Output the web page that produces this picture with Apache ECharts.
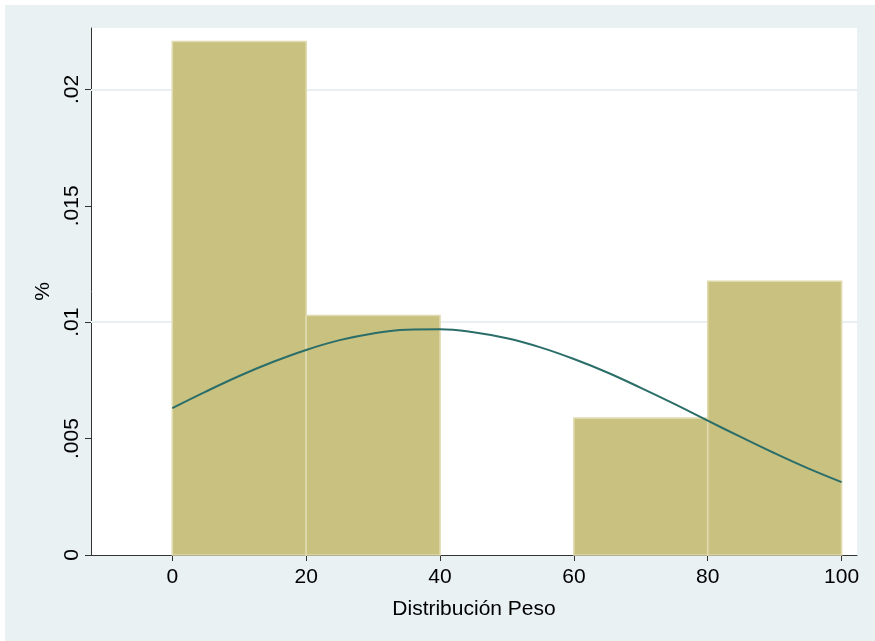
<!DOCTYPE html>
<html>
<head>
<meta charset="utf-8">
<script src="https://cdn.jsdelivr.net/npm/echarts@6/dist/echarts.min.js"></script>
<style>
  html, body { margin: 0; padding: 0; background: #ffffff; }
  #chart { width: 875px; height: 641px; }
</style>
</head>
<body>
<div id="chart"></div>
<script>
// Histogram bins (Distribución Peso) and their densities
const binStarts = [0, 20, 40, 60, 80];
const binEnds = [20, 40, 60, 80, 100];
const binDensity = [0.02206, 0.01029, 0, 0.00588, 0.01176];

// Normal density overlay, sampled along the x range
const curveX = [0, 5, 10, 15, 20, 25, 30, 35, 40, 45, 50, 55, 60, 65, 70, 75, 80, 85, 90, 95, 100];
const curveY = [0.00631, 0.00702, 0.00769, 0.00829, 0.00881, 0.00923, 0.00952, 0.00968, 0.00970,
  0.00957, 0.00931, 0.00892, 0.00842, 0.00784, 0.00718, 0.00649, 0.00577, 0.00506, 0.00437,
  0.00372, 0.00313];

// Axis ticks and labels
const xTicks = [0, 20, 40, 60, 80, 100];
const yTicks = [0, 0.005, 0.01, 0.015, 0.02];
const yTickLabels = ['0', '.005', '.01', '.015', '.02'];

const FONT = '"Liberation Sans", Arial, sans-serif';

const chart = echarts.init(document.getElementById('chart'), null, { renderer: 'canvas' });

const barData = binStarts.map((s, i) => [s, binEnds[i], binDensity[i]]);
const lineData = curveX.map((x, i) => [x, curveY[i]]);

chart.setOption({
  backgroundColor: '#ffffff',
  animation: false,
  graphic: [{
    type: 'rect',
    left: 5, top: 5,
    shape: { width: 870, height: 636 },
    style: { fill: '#EAF1F3' },
    z: -10,
    silent: true
  }],
  grid: {
    left: 91, top: 28, right: 18, bottom: 86,
    show: true,
    backgroundColor: '#ffffff',
    borderWidth: 0,
    containLabel: false
  },
  xAxis: {
    type: 'value',
    min: -12.15,
    max: 102.3,
    name: 'Distribución Peso',
    nameLocation: 'middle',
    nameGap: 44,
    nameTextStyle: { fontFamily: FONT, fontSize: 21, color: '#000' },
    axisLine: { show: true, onZero: false, lineStyle: { color: '#333', width: 1 } },
    axisTick: { show: true, length: 6, customValues: xTicks, lineStyle: { color: '#333' } },
    axisLabel: {
      customValues: xTicks,
      fontFamily: FONT, fontSize: 21, color: '#000', margin: 12
    },
    splitLine: { show: false }
  },
  yAxis: {
    type: 'value',
    min: 0,
    max: 0.02264,
    name: '%',
    nameLocation: 'middle',
    nameRotate: 90,
    nameGap: 31,
    nameTextStyle: { fontFamily: FONT, fontSize: 21, color: '#000' },
    axisLine: { show: true, onZero: false, lineStyle: { color: '#333', width: 1 } },
    axisTick: { show: true, length: 6, customValues: yTicks, lineStyle: { color: '#333' } },
    axisLabel: {
      customValues: yTicks,
      rotate: 90,
      fontFamily: FONT, fontSize: 21, color: '#000', margin: 8,
      formatter: (v) => {
        const i = yTicks.findIndex(t => Math.abs(t - v) < 1e-9);
        return i >= 0 ? yTickLabels[i] : '';
      }
    },
    splitLine: { show: false }
  },
  series: [
    {
      // horizontal reference lines at the y ticks, kept behind the bars
      type: 'line',
      data: [],
      silent: true,
      z: 1,
      markLine: {
        z: 1,
        silent: true,
        symbol: ['none', 'none'],
        label: { show: false },
        lineStyle: { color: '#E9F0F2', width: 2, type: 'solid' },
        data: yTicks.filter(v => v > 0).map(v => ({ yAxis: v }))
      }
    },
    {
      type: 'custom',
      z: 2,
      data: barData,
      renderItem: (params, api) => {
        const x0 = api.value(0), x1 = api.value(1), h = api.value(2);
        if (h <= 0) return null;
        const topLeft = api.coord([x0, h]);
        const bottomRight = api.coord([x1, 0]);
        return {
          type: 'rect',
          shape: {
            x: topLeft[0],
            y: topLeft[1],
            width: bottomRight[0] - topLeft[0],
            height: bottomRight[1] - topLeft[1]
          },
          style: { fill: '#C9C180', stroke: '#E0DAAE', lineWidth: 1.6 }
        };
      }
    },
    {
      type: 'line',
      z: 3,
      data: lineData,
      smooth: 0.4,
      showSymbol: false,
      lineStyle: { color: '#2B6E69', width: 2 }
    }
  ]
});
</script>
</body>
</html>
